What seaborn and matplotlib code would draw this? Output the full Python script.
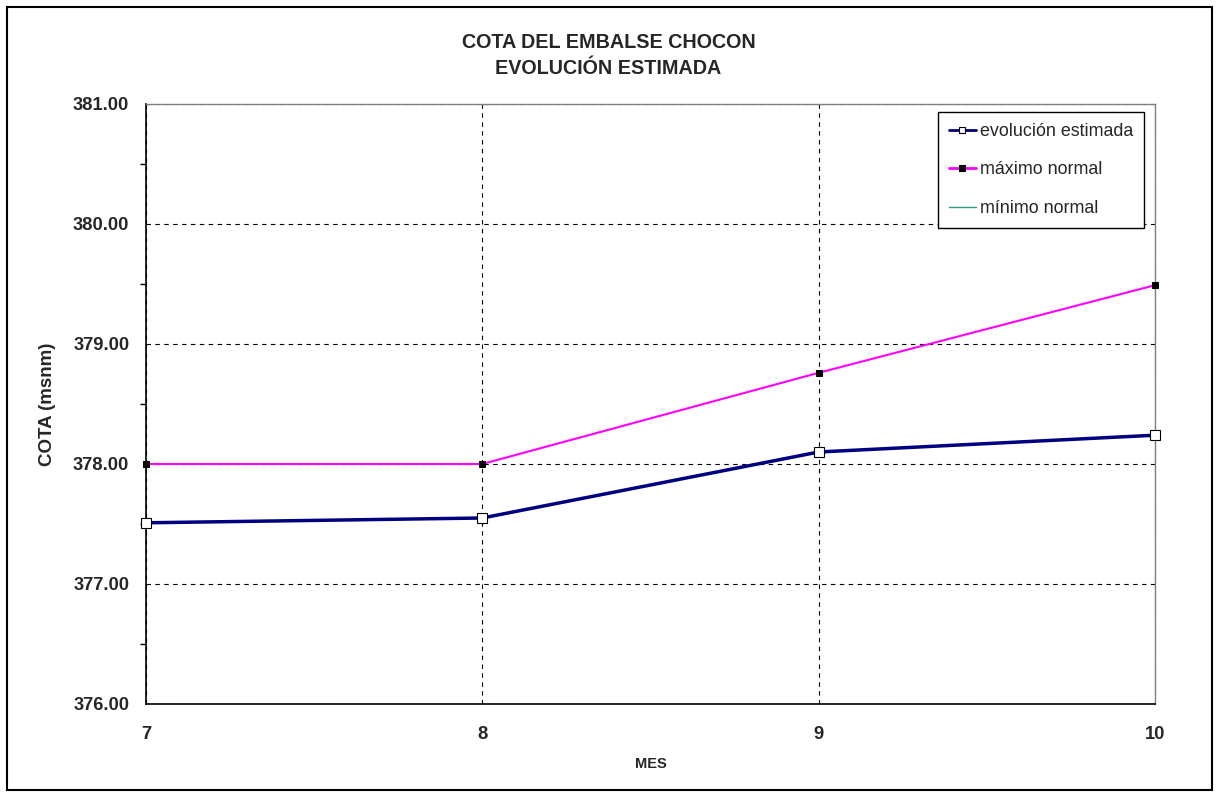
import numpy as np
import pandas as pd
import seaborn as sns
from matplotlib import pyplot as plt
from matplotlib.patches import Rectangle

# datos
meses = [7, 8, 9, 10]
evolucion = [377.51, 377.55, 378.10, 378.24]
maximo = [378.00, 378.00, 378.76, 379.49]
minimo = [np.nan, np.nan, np.nan, np.nan]  # no se ve en el grafico
yticks = [376, 377, 378, 379, 380, 381]

df = pd.DataFrame({'MES': meses, 'evolución estimada': evolucion,
                   'máximo normal': maximo, 'mínimo normal': minimo})

sns.set_style('white')
plt.rcParams['font.family'] = ['Liberation Sans', 'DejaVu Sans']

fig = plt.figure(figsize=(12.17, 7.93), dpi=100)
ax = fig.add_axes([146 / 1217, 1 - 704 / 793, (1155 - 146) / 1217, 600 / 793])

sns.lineplot(data=df, x='MES', y='evolución estimada', ax=ax, color='#000080',
             linewidth=2.5, marker='s', markersize=7, markerfacecolor='white',
             markeredgecolor='black', markeredgewidth=0.8, label='evolución estimada',
             clip_on=False, zorder=5)
sns.lineplot(data=df, x='MES', y='máximo normal', ax=ax, color='#FF00FF',
             linewidth=1.5, marker='s', markersize=5, markerfacecolor='black',
             markeredgecolor='black', label='máximo normal', clip_on=False, zorder=5)
ax.plot(df['MES'], df['mínimo normal'], color='#339980', linewidth=1, label='mínimo normal')

ax.set_xlim(7, 10)
ax.set_ylim(376, 381)
ax.set_xticks(meses)
ax.set_yticks(yticks)
ax.set_yticks(np.arange(376, 381.01, 0.5), minor=True)
ax.set_xticklabels([str(m) for m in meses], fontsize=13.2, fontweight='bold')
ax.set_yticklabels(['%.2f' % v for v in yticks], fontsize=13.2, fontweight='bold')
ax.tick_params(axis='both', which='major', direction='out', length=6, width=1, color='black', pad=6)
ax.tick_params(axis='y', which='minor', direction='out', length=4, width=1, color='black', left=True)
ax.tick_params(axis='x', which='major', pad=10)

ax.grid(True, which='major', linestyle=(0, (4, 4)), color='black', linewidth=0.8)
for s in ['left', 'bottom']:
    ax.spines[s].set_color('black')
    ax.spines[s].set_linewidth(1.2)
for s in ['top', 'right']:
    ax.spines[s].set_color('#808080')
    ax.spines[s].set_linewidth(1)

ax.set_xlabel('MES', fontsize=10.5, fontweight='bold', labelpad=10)
ax.set_ylabel('COTA (msnm)', fontsize=13.5, fontweight='bold', labelpad=12)
fig.text(0.5, 1 - 42 / 793, 'COTA DEL EMBALSE CHOCON', ha='center', va='center',
         fontsize=14.2, fontweight='bold')
fig.text(0.5, 1 - 69 / 793, 'EVOLUCIÓN ESTIMADA', ha='center', va='center',
         fontsize=14.2, fontweight='bold')

leg = ax.legend(loc='upper right', bbox_to_anchor=(0.9895, 0.987), borderaxespad=0,
                fontsize=12.9, frameon=True, fancybox=False, framealpha=1,
                edgecolor='black', handlelength=1.5, handletextpad=0.25,
                labelspacing=1.2, borderpad=0.62)
leg.get_frame().set_linewidth(1)
leg.set_zorder(10)
handles = leg.legend_handles
handles[0].set_markersize(5)
handles[0].set_linewidth(2)
handles[1].set_markersize(4)
handles[1].set_linewidth(2)

fig.patches.append(Rectangle((7 / 1217, 3 / 793), 1205 / 1217, 783 / 793,
                             transform=fig.transFigure, fill=False,
                             edgecolor='black', linewidth=1.5))

fig.savefig('out.png', dpi=100)
